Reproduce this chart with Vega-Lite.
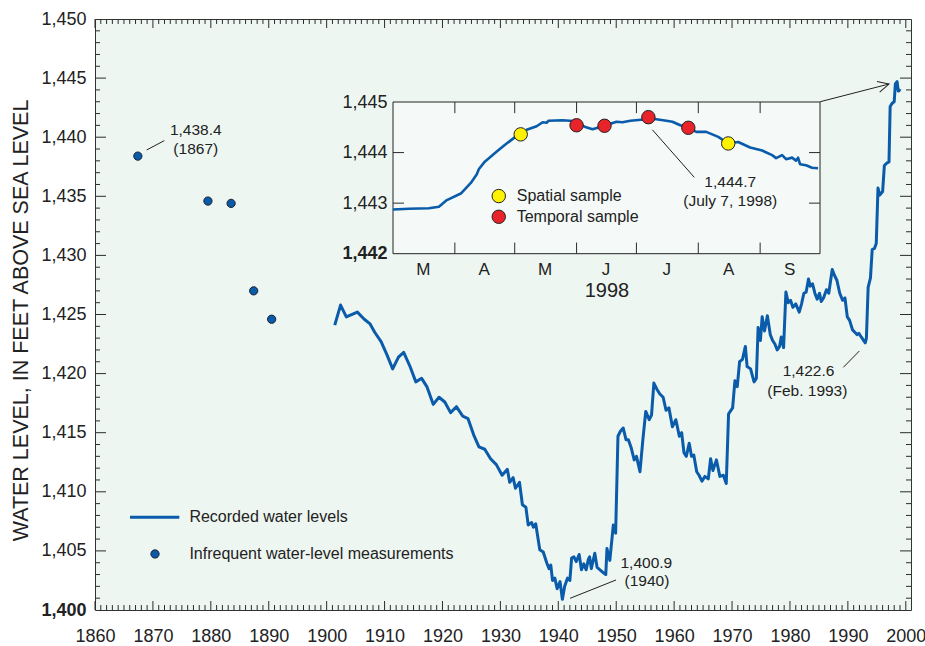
{
  "$schema": "https://vega.github.io/schema/vega-lite/v6.json",
  "width": 816,
  "height": 591,
  "autosize": {"type": "none"},
  "padding": {"left": 95, "top": 19, "right": 14, "bottom": 36},
  "background": "#ffffff",
  "config": {
    "font": "Liberation Sans",
    "view": {"fill": "#EEF6F1", "stroke": "#333333", "strokeWidth": 1},
    "axis": {"labelColor": "#222222", "titleColor": "#222222", "grid": false},
    "text": {"color": "#222222"}
  },
  "datasets": {
    "levels": [
      {"year": 1901.4, "level": 1424.1}, {"year": 1902.4, "level": 1425.8}, {"year": 1903.4, "level": 1424.8},
      {"year": 1905.3, "level": 1425.2}, {"year": 1906.5, "level": 1424.6}, {"year": 1907.5, "level": 1424.2},
      {"year": 1908.3, "level": 1423.5}, {"year": 1909.4, "level": 1422.7}, {"year": 1910.4, "level": 1421.6},
      {"year": 1911.4, "level": 1420.4}, {"year": 1912.4, "level": 1421.4}, {"year": 1913.3, "level": 1421.8},
      {"year": 1914.4, "level": 1420.6}, {"year": 1915.4, "level": 1419.3}, {"year": 1916.4, "level": 1419.6},
      {"year": 1917.3, "level": 1418.9}, {"year": 1918.4, "level": 1417.4}, {"year": 1919.4, "level": 1418.0},
      {"year": 1920.4, "level": 1417.6}, {"year": 1921.4, "level": 1416.7}, {"year": 1922.4, "level": 1417.2},
      {"year": 1923.5, "level": 1416.4}, {"year": 1924.4, "level": 1416.2}, {"year": 1925.4, "level": 1414.8},
      {"year": 1926.3, "level": 1413.8}, {"year": 1927.3, "level": 1413.6}, {"year": 1928.3, "level": 1412.8},
      {"year": 1929.3, "level": 1412.3}, {"year": 1930.3, "level": 1411.4}, {"year": 1931.2, "level": 1411.9},
      {"year": 1931.6, "level": 1410.8}, {"year": 1932.2, "level": 1411.2}, {"year": 1932.6, "level": 1410.3},
      {"year": 1933.3, "level": 1410.8}, {"year": 1933.8, "level": 1408.9}, {"year": 1934.4, "level": 1408.7},
      {"year": 1934.8, "level": 1407.2}, {"year": 1935.4, "level": 1407.4}, {"year": 1935.7, "level": 1407.0},
      {"year": 1936.1, "level": 1407.3}, {"year": 1936.8, "level": 1405.1}, {"year": 1937.4, "level": 1404.9},
      {"year": 1938.0, "level": 1404.0}, {"year": 1938.4, "level": 1403.5}, {"year": 1938.7, "level": 1403.8},
      {"year": 1939.0, "level": 1402.5}, {"year": 1939.4, "level": 1402.7}, {"year": 1939.8, "level": 1401.8},
      {"year": 1940.3, "level": 1402.4}, {"year": 1940.7, "level": 1400.9}, {"year": 1941.1, "level": 1402.0},
      {"year": 1941.6, "level": 1402.7}, {"year": 1942.0, "level": 1402.5}, {"year": 1942.3, "level": 1404.4},
      {"year": 1942.7, "level": 1404.5}, {"year": 1943.1, "level": 1404.1}, {"year": 1943.6, "level": 1404.7},
      {"year": 1944.0, "level": 1403.4}, {"year": 1944.4, "level": 1403.9}, {"year": 1944.8, "level": 1403.4},
      {"year": 1945.2, "level": 1404.3}, {"year": 1945.4, "level": 1404.5}, {"year": 1945.7, "level": 1403.5},
      {"year": 1946.3, "level": 1404.8}, {"year": 1946.7, "level": 1403.6}, {"year": 1947.2, "level": 1403.4},
      {"year": 1947.9, "level": 1403.1}, {"year": 1948.2, "level": 1403.0}, {"year": 1948.4, "level": 1405.2},
      {"year": 1948.9, "level": 1404.2}, {"year": 1949.5, "level": 1407.2}, {"year": 1949.9, "level": 1406.5},
      {"year": 1950.3, "level": 1414.7}, {"year": 1950.7, "level": 1415.1}, {"year": 1951.2, "level": 1415.4},
      {"year": 1951.7, "level": 1414.4}, {"year": 1952.1, "level": 1414.4}, {"year": 1952.6, "level": 1413.7},
      {"year": 1953.1, "level": 1412.7}, {"year": 1953.5, "level": 1413.0}, {"year": 1954.1, "level": 1411.7},
      {"year": 1954.6, "level": 1414.4}, {"year": 1955.1, "level": 1416.8}, {"year": 1955.7, "level": 1416.1},
      {"year": 1956.1, "level": 1416.5}, {"year": 1956.5, "level": 1419.2}, {"year": 1957.0, "level": 1418.7},
      {"year": 1957.5, "level": 1418.3}, {"year": 1958.1, "level": 1418.0}, {"year": 1958.6, "level": 1416.9},
      {"year": 1959.1, "level": 1417.1}, {"year": 1959.7, "level": 1415.5}, {"year": 1960.3, "level": 1416.1},
      {"year": 1960.9, "level": 1414.7}, {"year": 1961.3, "level": 1415.0}, {"year": 1961.7, "level": 1413.3},
      {"year": 1962.1, "level": 1413.0}, {"year": 1962.6, "level": 1414.1}, {"year": 1963.0, "level": 1413.0},
      {"year": 1963.4, "level": 1413.1}, {"year": 1963.9, "level": 1411.7}, {"year": 1964.3, "level": 1411.4},
      {"year": 1964.8, "level": 1410.9}, {"year": 1965.3, "level": 1411.3}, {"year": 1965.9, "level": 1411.1},
      {"year": 1966.3, "level": 1412.8}, {"year": 1966.7, "level": 1411.8}, {"year": 1967.3, "level": 1412.7},
      {"year": 1967.9, "level": 1411.3}, {"year": 1968.5, "level": 1411.4}, {"year": 1969.0, "level": 1410.7},
      {"year": 1969.4, "level": 1416.6}, {"year": 1970.1, "level": 1417.1}, {"year": 1970.5, "level": 1419.4},
      {"year": 1970.9, "level": 1418.9}, {"year": 1971.3, "level": 1421.0}, {"year": 1971.8, "level": 1421.2},
      {"year": 1972.3, "level": 1422.3}, {"year": 1972.6, "level": 1420.6}, {"year": 1973.2, "level": 1420.4},
      {"year": 1973.8, "level": 1419.3}, {"year": 1974.2, "level": 1419.6}, {"year": 1974.5, "level": 1423.9},
      {"year": 1974.9, "level": 1422.8}, {"year": 1975.2, "level": 1424.8}, {"year": 1975.6, "level": 1423.6},
      {"year": 1976.1, "level": 1424.9}, {"year": 1976.6, "level": 1423.3}, {"year": 1977.0, "level": 1422.8},
      {"year": 1977.4, "level": 1422.5}, {"year": 1977.8, "level": 1422.0}, {"year": 1978.2, "level": 1422.3},
      {"year": 1978.5, "level": 1423.1}, {"year": 1978.9, "level": 1422.2}, {"year": 1979.3, "level": 1426.9},
      {"year": 1979.7, "level": 1426.0}, {"year": 1980.1, "level": 1426.2}, {"year": 1980.5, "level": 1425.6},
      {"year": 1981.0, "level": 1425.9}, {"year": 1981.6, "level": 1425.2}, {"year": 1982.0, "level": 1425.9},
      {"year": 1982.4, "level": 1426.8}, {"year": 1982.8, "level": 1426.9}, {"year": 1983.2, "level": 1428.0},
      {"year": 1983.5, "level": 1427.4}, {"year": 1983.9, "level": 1427.6}, {"year": 1984.3, "level": 1426.8},
      {"year": 1984.7, "level": 1426.3}, {"year": 1985.1, "level": 1426.8}, {"year": 1985.4, "level": 1426.1},
      {"year": 1985.8, "level": 1426.4}, {"year": 1986.3, "level": 1427.1}, {"year": 1986.7, "level": 1426.8},
      {"year": 1987.3, "level": 1428.8}, {"year": 1987.7, "level": 1428.3}, {"year": 1988.1, "level": 1427.9},
      {"year": 1988.6, "level": 1426.8}, {"year": 1989.1, "level": 1426.2}, {"year": 1989.5, "level": 1426.4},
      {"year": 1989.9, "level": 1424.8}, {"year": 1990.3, "level": 1424.5}, {"year": 1990.8, "level": 1423.7},
      {"year": 1991.2, "level": 1423.5}, {"year": 1991.6, "level": 1423.3}, {"year": 1991.9, "level": 1423.4},
      {"year": 1992.3, "level": 1423.1}, {"year": 1993.0, "level": 1422.6}, {"year": 1993.2, "level": 1423.0},
      {"year": 1993.5, "level": 1427.3}, {"year": 1993.9, "level": 1428.1}, {"year": 1994.2, "level": 1430.5},
      {"year": 1994.6, "level": 1430.6}, {"year": 1994.9, "level": 1431.0}, {"year": 1995.2, "level": 1435.7},
      {"year": 1995.5, "level": 1435.1}, {"year": 1996.0, "level": 1435.4}, {"year": 1996.3, "level": 1437.6},
      {"year": 1996.7, "level": 1437.8}, {"year": 1997.1, "level": 1437.9}, {"year": 1997.3, "level": 1442.6},
      {"year": 1997.7, "level": 1442.9}, {"year": 1998.0, "level": 1443.0}, {"year": 1998.2, "level": 1444.5},
      {"year": 1998.5, "level": 1444.7}, {"year": 1998.7, "level": 1443.9}, {"year": 1998.8, "level": 1444.0},
      {"year": 1999.1, "level": 1443.9}
    ],
    "measurements": [
      {"year": 1867.4, "level": 1438.4}, {"year": 1879.5, "level": 1434.6}, {"year": 1883.5, "level": 1434.4},
      {"year": 1887.4, "level": 1427.0}, {"year": 1890.5, "level": 1424.6}
    ],
    "notes": [
      {"year": 1877.4, "level": 1440.6, "text": "1,438.4"},
      {"year": 1877.4, "level": 1439.0, "text": "(1867)"},
      {"year": 1955.2, "level": 1404.0, "text": "1,400.9"},
      {"year": 1955.3, "level": 1402.45, "text": "(1940)"},
      {"year": 1983.2, "level": 1420.25, "text": "1,422.6"},
      {"year": 1983.0, "level": 1418.55, "text": "(Feb. 1993)"}
    ],
    "leaders": [
      {"year": 1868.93, "level": 1438.92, "year2": 1871.97, "level2": 1439.71},
      {"year": 1942.03, "level": 1400.99, "year2": 1949.97, "level2": 1402.54},
      {"year": 1989.22, "level": 1420.53, "year2": 1991.98, "level2": 1421.91}
    ],
    "arrow": [
      {"year": 1985.2, "level": 1443.0, "year2": 1997.1, "level2": 1444.5}
    ],
    "keyLine": [
      {"year": 1866.04, "year2": 1874.56, "level": 1407.84}
    ],
    "keyPoint": [
      {"year": 1870.36, "level": 1404.74}
    ],
    "keyText": [
      {"year": 1876.3, "level": 1407.84, "text": "Recorded water levels"},
      {"year": 1876.3, "level": 1404.74, "text": "Infrequent water-level measurements"}
    ],
    "decades": [
      {"year": 1860}, {"year": 1870}, {"year": 1880}, {"year": 1890}, {"year": 1900}, {"year": 1910},
      {"year": 1920}, {"year": 1930}, {"year": 1940}, {"year": 1950}, {"year": 1960}, {"year": 1970},
      {"year": 1980}, {"year": 1990}, {"year": 2000}
    ],
    "years": [
      {"year": 1861}, {"year": 1862}, {"year": 1863}, {"year": 1864}, {"year": 1865}, {"year": 1866}, {"year": 1867}, {"year": 1868}, {"year": 1869},
      {"year": 1871}, {"year": 1872}, {"year": 1873}, {"year": 1874}, {"year": 1875}, {"year": 1876}, {"year": 1877}, {"year": 1878}, {"year": 1879},
      {"year": 1881}, {"year": 1882}, {"year": 1883}, {"year": 1884}, {"year": 1885}, {"year": 1886}, {"year": 1887}, {"year": 1888}, {"year": 1889},
      {"year": 1891}, {"year": 1892}, {"year": 1893}, {"year": 1894}, {"year": 1895}, {"year": 1896}, {"year": 1897}, {"year": 1898}, {"year": 1899},
      {"year": 1901}, {"year": 1902}, {"year": 1903}, {"year": 1904}, {"year": 1905}, {"year": 1906}, {"year": 1907}, {"year": 1908}, {"year": 1909},
      {"year": 1911}, {"year": 1912}, {"year": 1913}, {"year": 1914}, {"year": 1915}, {"year": 1916}, {"year": 1917}, {"year": 1918}, {"year": 1919},
      {"year": 1921}, {"year": 1922}, {"year": 1923}, {"year": 1924}, {"year": 1925}, {"year": 1926}, {"year": 1927}, {"year": 1928}, {"year": 1929},
      {"year": 1931}, {"year": 1932}, {"year": 1933}, {"year": 1934}, {"year": 1935}, {"year": 1936}, {"year": 1937}, {"year": 1938}, {"year": 1939},
      {"year": 1941}, {"year": 1942}, {"year": 1943}, {"year": 1944}, {"year": 1945}, {"year": 1946}, {"year": 1947}, {"year": 1948}, {"year": 1949},
      {"year": 1951}, {"year": 1952}, {"year": 1953}, {"year": 1954}, {"year": 1955}, {"year": 1956}, {"year": 1957}, {"year": 1958}, {"year": 1959},
      {"year": 1961}, {"year": 1962}, {"year": 1963}, {"year": 1964}, {"year": 1965}, {"year": 1966}, {"year": 1967}, {"year": 1968}, {"year": 1969},
      {"year": 1971}, {"year": 1972}, {"year": 1973}, {"year": 1974}, {"year": 1975}, {"year": 1976}, {"year": 1977}, {"year": 1978}, {"year": 1979},
      {"year": 1981}, {"year": 1982}, {"year": 1983}, {"year": 1984}, {"year": 1985}, {"year": 1986}, {"year": 1987}, {"year": 1988}, {"year": 1989},
      {"year": 1991}, {"year": 1992}, {"year": 1993}, {"year": 1994}, {"year": 1995}, {"year": 1996}, {"year": 1997}, {"year": 1998}, {"year": 1999}
    ],
    "fives": [
      {"level": 1405}, {"level": 1410}, {"level": 1415}, {"level": 1420}, {"level": 1425},
      {"level": 1430}, {"level": 1435}, {"level": 1440}, {"level": 1445}
    ],
    "feet": [
      {"level": 1401}, {"level": 1402}, {"level": 1403}, {"level": 1404}, {"level": 1406}, {"level": 1407}, {"level": 1408}, {"level": 1409},
      {"level": 1411}, {"level": 1412}, {"level": 1413}, {"level": 1414}, {"level": 1416}, {"level": 1417}, {"level": 1418}, {"level": 1419},
      {"level": 1421}, {"level": 1422}, {"level": 1423}, {"level": 1424}, {"level": 1426}, {"level": 1427}, {"level": 1428}, {"level": 1429},
      {"level": 1431}, {"level": 1432}, {"level": 1433}, {"level": 1434}, {"level": 1436}, {"level": 1437}, {"level": 1438}, {"level": 1439},
      {"level": 1441}, {"level": 1442}, {"level": 1443}, {"level": 1444}, {"level": 1446}, {"level": 1447}, {"level": 1448}, {"level": 1449}
    ],
    "frame": [
      {"start": "1998/03/01", "end": "1998/10/01", "lo": 1442, "hi": 1445}
    ],
    "monthStarts": [
      {"date": "1998/04/01"}, {"date": "1998/05/01"}, {"date": "1998/06/01"},
      {"date": "1998/07/01"}, {"date": "1998/08/01"}, {"date": "1998/09/01"}
    ],
    "insetFeet": [
      {"level": 1443}, {"level": 1444}
    ],
    "daily": [
      {"date": "1998/03/01", "level": 1442.875}, {"date": "1998/03/09", "level": 1442.89},
      {"date": "1998/03/19", "level": 1442.9}, {"date": "1998/03/24", "level": 1442.93},
      {"date": "1998/03/28", "level": 1443.06}, {"date": "1998/04/04", "level": 1443.19},
      {"date": "1998/04/09", "level": 1443.4}, {"date": "1998/04/12", "level": 1443.57},
      {"date": "1998/04/13", "level": 1443.67}, {"date": "1998/04/16", "level": 1443.82},
      {"date": "1998/04/22", "level": 1444.02}, {"date": "1998/04/26", "level": 1444.15},
      {"date": "1998/05/02", "level": 1444.33}, {"date": "1998/05/07", "level": 1444.45},
      {"date": "1998/05/12", "level": 1444.52}, {"date": "1998/05/15", "level": 1444.6},
      {"date": "1998/05/17", "level": 1444.59}, {"date": "1998/05/18", "level": 1444.63},
      {"date": "1998/05/25", "level": 1444.64}, {"date": "1998/06/01", "level": 1444.62},
      {"date": "1998/06/05", "level": 1444.51}, {"date": "1998/06/09", "level": 1444.46},
      {"date": "1998/06/15", "level": 1444.53}, {"date": "1998/06/21", "level": 1444.61},
      {"date": "1998/06/24", "level": 1444.6}, {"date": "1998/06/28", "level": 1444.63},
      {"date": "1998/07/06", "level": 1444.66}, {"date": "1998/07/07", "level": 1444.68},
      {"date": "1998/07/11", "level": 1444.66}, {"date": "1998/07/16", "level": 1444.63},
      {"date": "1998/07/19", "level": 1444.61}, {"date": "1998/07/23", "level": 1444.54},
      {"date": "1998/07/27", "level": 1444.49}, {"date": "1998/07/31", "level": 1444.41},
      {"date": "1998/08/05", "level": 1444.41}, {"date": "1998/08/11", "level": 1444.31},
      {"date": "1998/08/16", "level": 1444.18}, {"date": "1998/08/21", "level": 1444.21},
      {"date": "1998/08/27", "level": 1444.1}, {"date": "1998/09/02", "level": 1444.04},
      {"date": "1998/09/07", "level": 1443.95}, {"date": "1998/09/09", "level": 1443.89},
      {"date": "1998/09/12", "level": 1443.95}, {"date": "1998/09/14", "level": 1443.87},
      {"date": "1998/09/17", "level": 1443.9}, {"date": "1998/09/19", "level": 1443.84},
      {"date": "1998/09/20", "level": 1443.9}, {"date": "1998/09/21", "level": 1443.77},
      {"date": "1998/09/24", "level": 1443.75}, {"date": "1998/09/27", "level": 1443.7},
      {"date": "1998/09/30", "level": 1443.69}
    ],
    "samples": [
      {"date": "1998/05/04", "level": 1444.36, "kind": "Spatial sample"},
      {"date": "1998/06/01", "level": 1444.54, "kind": "Temporal sample"},
      {"date": "1998/06/15", "level": 1444.53, "kind": "Temporal sample"},
      {"date": "1998/07/07", "level": 1444.7, "kind": "Temporal sample"},
      {"date": "1998/07/27", "level": 1444.49, "kind": "Temporal sample"},
      {"date": "1998/08/16", "level": 1444.18, "kind": "Spatial sample"}
    ],
    "sampleKey": [
      {"date": "1998/04/23", "level": 1443.14, "kind": "Spatial sample"},
      {"date": "1998/04/23", "level": 1442.73, "kind": "Temporal sample"}
    ],
    "sampleKeyText": [
      {"date": "1998/05/02", "level": 1443.14, "text": "Spatial sample"},
      {"date": "1998/05/02", "level": 1442.73, "text": "Temporal sample"}
    ],
    "peakNote": [
      {"date": "1998/08/17", "level": 1443.42, "text": "1,444.7"},
      {"date": "1998/08/17", "level": 1443.05, "text": "(July 7, 1998)"}
    ],
    "peakLeader": [
      {"date": "1998/07/09", "level": 1444.45, "date2": "1998/07/30", "level2": 1443.51}
    ]
  },
  "layer": [
    {
      "layer": [
        {
          "data": {"name": "levels"},
          "mark": {"type": "line", "color": "#0A5BAA", "strokeWidth": 3, "strokeJoin": "round"},
          "encoding": {
            "x": {
              "field": "year", "type": "quantitative",
              "scale": {"domain": [1860, 2000.9], "nice": false, "zero": false},
              "axis": {
                "orient": "bottom", "title": null, "ticks": false, "domain": false,
                "values": [1860, 1870, 1880, 1890, 1900, 1910, 1920, 1930, 1940, 1950, 1960, 1970, 1980, 1990, 2000],
                "format": "d", "labelFontSize": 18, "labelPadding": 17, "labelFlush": false, "labelOverlap": false
              }
            },
            "y": {
              "field": "level", "type": "quantitative",
              "scale": {"domain": [1400, 1450], "nice": false, "zero": false},
              "axis": {
                "orient": "left", "ticks": false, "domain": false,
                "values": [1400, 1405, 1410, 1415, 1420, 1425, 1430, 1435, 1440, 1445, 1450],
                "format": ",d", "labelFontSize": 18, "labelPadding": 9, "labelOverlap": false,
                "labelFontWeight": {"condition": {"test": "datum.value === 1400", "value": "bold"}, "value": "normal"},
                "title": "WATER LEVEL, IN FEET ABOVE SEA LEVEL",
                "titleFontSize": 21.5, "titleFontWeight": "normal", "titleAngle": 270,
                "titleAlign": "center", "titleBaseline": "middle", "titleX": -74, "titleY": 301
              }
            }
          }
        },
        {
          "data": {"name": "decades"},
          "mark": {"type": "rule", "color": "#2B2B2B", "strokeWidth": 1},
          "encoding": {
            "x": {"field": "year", "type": "quantitative", "axis": null},
            "y": {"datum": 1400, "type": "quantitative", "axis": null},
            "y2": {"datum": 1400.76}
          }
        },
        {
          "data": {"name": "decades"},
          "mark": {"type": "rule", "color": "#2B2B2B", "strokeWidth": 1},
          "encoding": {
            "x": {"field": "year", "type": "quantitative", "axis": null},
            "y": {"datum": 1450, "type": "quantitative", "axis": null},
            "y2": {"datum": 1449.24}
          }
        },
        {
          "data": {"name": "years"},
          "mark": {"type": "rule", "color": "#2B2B2B", "strokeWidth": 1},
          "encoding": {
            "x": {"field": "year", "type": "quantitative", "axis": null},
            "y": {"datum": 1400, "type": "quantitative", "axis": null},
            "y2": {"datum": 1400.42}
          }
        },
        {
          "data": {"name": "years"},
          "mark": {"type": "rule", "color": "#2B2B2B", "strokeWidth": 1},
          "encoding": {
            "x": {"field": "year", "type": "quantitative", "axis": null},
            "y": {"datum": 1450, "type": "quantitative", "axis": null},
            "y2": {"datum": 1449.58}
          }
        },
        {
          "data": {"name": "fives"},
          "mark": {"type": "rule", "color": "#2B2B2B", "strokeWidth": 1},
          "encoding": {
            "y": {"field": "level", "type": "quantitative", "axis": null},
            "x": {"datum": 1860, "type": "quantitative", "axis": null},
            "x2": {"datum": 1861.9}
          }
        },
        {
          "data": {"name": "fives"},
          "mark": {"type": "rule", "color": "#2B2B2B", "strokeWidth": 1},
          "encoding": {
            "y": {"field": "level", "type": "quantitative", "axis": null},
            "x": {"datum": 2000.9, "type": "quantitative", "axis": null},
            "x2": {"datum": 1999.0}
          }
        },
        {
          "data": {"name": "feet"},
          "mark": {"type": "rule", "color": "#2B2B2B", "strokeWidth": 1},
          "encoding": {
            "y": {"field": "level", "type": "quantitative", "axis": null},
            "x": {"datum": 1860, "type": "quantitative", "axis": null},
            "x2": {"datum": 1860.86}
          }
        },
        {
          "data": {"name": "feet"},
          "mark": {"type": "rule", "color": "#2B2B2B", "strokeWidth": 1},
          "encoding": {
            "y": {"field": "level", "type": "quantitative", "axis": null},
            "x": {"datum": 2000.9, "type": "quantitative", "axis": null},
            "x2": {"datum": 2000.04}
          }
        },
        {
          "data": {"name": "measurements"},
          "mark": {"type": "point", "filled": true, "fill": "#0A5BAA", "stroke": "#1B1F2E", "strokeWidth": 1, "size": 68, "opacity": 1},
          "encoding": {
            "x": {"field": "year", "type": "quantitative", "axis": null},
            "y": {"field": "level", "type": "quantitative", "axis": null}
          }
        },
        {
          "data": {"name": "notes"},
          "mark": {"type": "text", "fontSize": 15.5, "align": "center", "baseline": "middle"},
          "encoding": {
            "x": {"field": "year", "type": "quantitative", "axis": null},
            "y": {"field": "level", "type": "quantitative", "axis": null},
            "text": {"field": "text"}
          }
        },
        {
          "data": {"name": "leaders"},
          "mark": {"type": "rule", "color": "#222222", "strokeWidth": 1},
          "encoding": {
            "x": {"field": "year", "type": "quantitative", "axis": null},
            "x2": {"field": "year2"},
            "y": {"field": "level", "type": "quantitative", "axis": null},
            "y2": {"field": "level2"}
          }
        },
        {
          "data": {"name": "arrow"},
          "mark": {"type": "rule", "color": "#222222", "strokeWidth": 1},
          "encoding": {
            "x": {"field": "year", "type": "quantitative", "axis": null},
            "x2": {"field": "year2"},
            "y": {"field": "level", "type": "quantitative", "axis": null},
            "y2": {"field": "level2"}
          }
        },
        {
          "data": {"name": "arrow"},
          "mark": {"type": "point", "shape": "M-1,-0.5L0,0L-1,0.5", "filled": false, "stroke": "#222222", "strokeWidth": 1, "size": 484, "angle": 345.7, "opacity": 1},
          "encoding": {
            "x": {"field": "year2", "type": "quantitative", "axis": null},
            "y": {"field": "level2", "type": "quantitative", "axis": null}
          }
        },
        {
          "data": {"name": "keyLine"},
          "mark": {"type": "rule", "color": "#0A5BAA", "strokeWidth": 3},
          "encoding": {
            "x": {"field": "year", "type": "quantitative", "axis": null},
            "x2": {"field": "year2"},
            "y": {"field": "level", "type": "quantitative", "axis": null}
          }
        },
        {
          "data": {"name": "keyPoint"},
          "mark": {"type": "point", "filled": true, "fill": "#0A5BAA", "stroke": "#1B1F2E", "strokeWidth": 1, "size": 68, "opacity": 1},
          "encoding": {
            "x": {"field": "year", "type": "quantitative", "axis": null},
            "y": {"field": "level", "type": "quantitative", "axis": null}
          }
        },
        {
          "data": {"name": "keyText"},
          "mark": {"type": "text", "fontSize": 16, "align": "left", "baseline": "middle"},
          "encoding": {
            "x": {"field": "year", "type": "quantitative", "axis": null},
            "y": {"field": "level", "type": "quantitative", "axis": null},
            "text": {"field": "text"}
          }
        }
      ],
      "resolve": {"axis": {"x": "independent", "y": "independent"}}
    },
    {
      "layer": [
        {
          "data": {"name": "frame"},
          "mark": {"type": "rect", "fill": "#F5FAF8", "stroke": "#222222", "strokeWidth": 1},
          "encoding": {
            "x": {
              "field": "start", "type": "temporal",
              "scale": {"domain": [{"year": 1998, "month": 3, "date": 1}, {"year": 1998, "month": 10, "date": 1}], "range": [298, 725], "nice": false},
              "axis": {
                "orient": "bottom", "offset": -356.3, "ticks": false, "domain": false,
                "values": [
                  {"year": 1998, "month": 3, "date": 16}, {"year": 1998, "month": 4, "date": 15, "hours": 12},
                  {"year": 1998, "month": 5, "date": 16}, {"year": 1998, "month": 6, "date": 15, "hours": 12},
                  {"year": 1998, "month": 7, "date": 16}, {"year": 1998, "month": 8, "date": 16},
                  {"year": 1998, "month": 9, "date": 15, "hours": 12}
                ],
                "format": "%B", "labelExpr": "substring(datum.label, 0, 1)",
                "labelFontSize": 17, "labelPadding": 8, "labelFlush": false, "labelOverlap": false,
                "title": "1998", "titleFontSize": 20, "titleFontWeight": "normal",
                "titleBaseline": "top", "titleAlign": "center", "titleY": 26.5
              }
            },
            "x2": {"field": "end"},
            "y": {
              "field": "lo", "type": "quantitative",
              "scale": {"domain": [1442, 1445], "range": [234.7, 83], "nice": false, "zero": false},
              "axis": {
                "orient": "left", "offset": -298, "ticks": false, "domain": false, "title": null,
                "values": [1442, 1443, 1444, 1445], "format": ",d",
                "labelFontSize": 18, "labelPadding": 6, "labelOverlap": false,
                "labelFontWeight": {"condition": {"test": "datum.value === 1442", "value": "bold"}, "value": "normal"}
              }
            },
            "y2": {"field": "hi"}
          }
        },
        {
          "data": {"name": "monthStarts"},
          "mark": {"type": "rule", "color": "#2B2B2B", "strokeWidth": 1},
          "encoding": {
            "x": {"field": "date", "type": "temporal", "axis": null},
            "y": {"datum": 1442, "type": "quantitative", "axis": null},
            "y2": {"datum": 1442.22}
          }
        },
        {
          "data": {"name": "monthStarts"},
          "mark": {"type": "rule", "color": "#2B2B2B", "strokeWidth": 1},
          "encoding": {
            "x": {"field": "date", "type": "temporal", "axis": null},
            "y": {"datum": 1445, "type": "quantitative", "axis": null},
            "y2": {"datum": 1444.78}
          }
        },
        {
          "data": {"name": "insetFeet"},
          "mark": {"type": "rule", "color": "#2B2B2B", "strokeWidth": 1},
          "encoding": {
            "y": {"field": "level", "type": "quantitative", "axis": null},
            "x": {"datum": {"year": 1998, "month": 3, "date": 1}, "type": "temporal", "axis": null},
            "x2": {"datum": {"year": 1998, "month": 3, "date": 6, "hours": 12}}
          }
        },
        {
          "data": {"name": "insetFeet"},
          "mark": {"type": "rule", "color": "#2B2B2B", "strokeWidth": 1},
          "encoding": {
            "y": {"field": "level", "type": "quantitative", "axis": null},
            "x": {"datum": {"year": 1998, "month": 10, "date": 1}, "type": "temporal", "axis": null},
            "x2": {"datum": {"year": 1998, "month": 9, "date": 25, "hours": 12}}
          }
        },
        {
          "data": {"name": "daily"},
          "mark": {"type": "line", "color": "#0A5BAA", "strokeWidth": 2.6, "strokeJoin": "round"},
          "encoding": {
            "x": {"field": "date", "type": "temporal", "axis": null},
            "y": {"field": "level", "type": "quantitative", "axis": null}
          }
        },
        {
          "data": {"name": "samples"},
          "mark": {"type": "point", "filled": true, "stroke": "#222222", "strokeWidth": 1, "size": 180, "opacity": 1},
          "encoding": {
            "x": {"field": "date", "type": "temporal", "axis": null},
            "y": {"field": "level", "type": "quantitative", "axis": null},
            "fill": {
              "field": "kind", "type": "nominal",
              "scale": {"domain": ["Spatial sample", "Temporal sample"], "range": ["#FFF200", "#E8232A"]},
              "legend": null
            }
          }
        },
        {
          "data": {"name": "sampleKey"},
          "mark": {"type": "point", "filled": true, "stroke": "#222222", "strokeWidth": 1, "size": 180, "opacity": 1},
          "encoding": {
            "x": {"field": "date", "type": "temporal", "axis": null},
            "y": {"field": "level", "type": "quantitative", "axis": null},
            "fill": {"field": "kind", "type": "nominal", "legend": null}
          }
        },
        {
          "data": {"name": "sampleKeyText"},
          "mark": {"type": "text", "fontSize": 16, "align": "left", "baseline": "middle"},
          "encoding": {
            "x": {"field": "date", "type": "temporal", "axis": null},
            "y": {"field": "level", "type": "quantitative", "axis": null},
            "text": {"field": "text"}
          }
        },
        {
          "data": {"name": "peakLeader"},
          "mark": {"type": "rule", "color": "#222222", "strokeWidth": 1},
          "encoding": {
            "x": {"field": "date", "type": "temporal", "axis": null},
            "x2": {"field": "date2"},
            "y": {"field": "level", "type": "quantitative", "axis": null},
            "y2": {"field": "level2"}
          }
        },
        {
          "data": {"name": "peakNote"},
          "mark": {"type": "text", "fontSize": 15.5, "align": "center", "baseline": "middle"},
          "encoding": {
            "x": {"field": "date", "type": "temporal", "axis": null},
            "y": {"field": "level", "type": "quantitative", "axis": null},
            "text": {"field": "text"}
          }
        }
      ],
      "resolve": {"axis": {"x": "independent", "y": "independent"}}
    }
  ],
  "resolve": {"scale": {"x": "independent", "y": "independent", "fill": "independent"}}
}
